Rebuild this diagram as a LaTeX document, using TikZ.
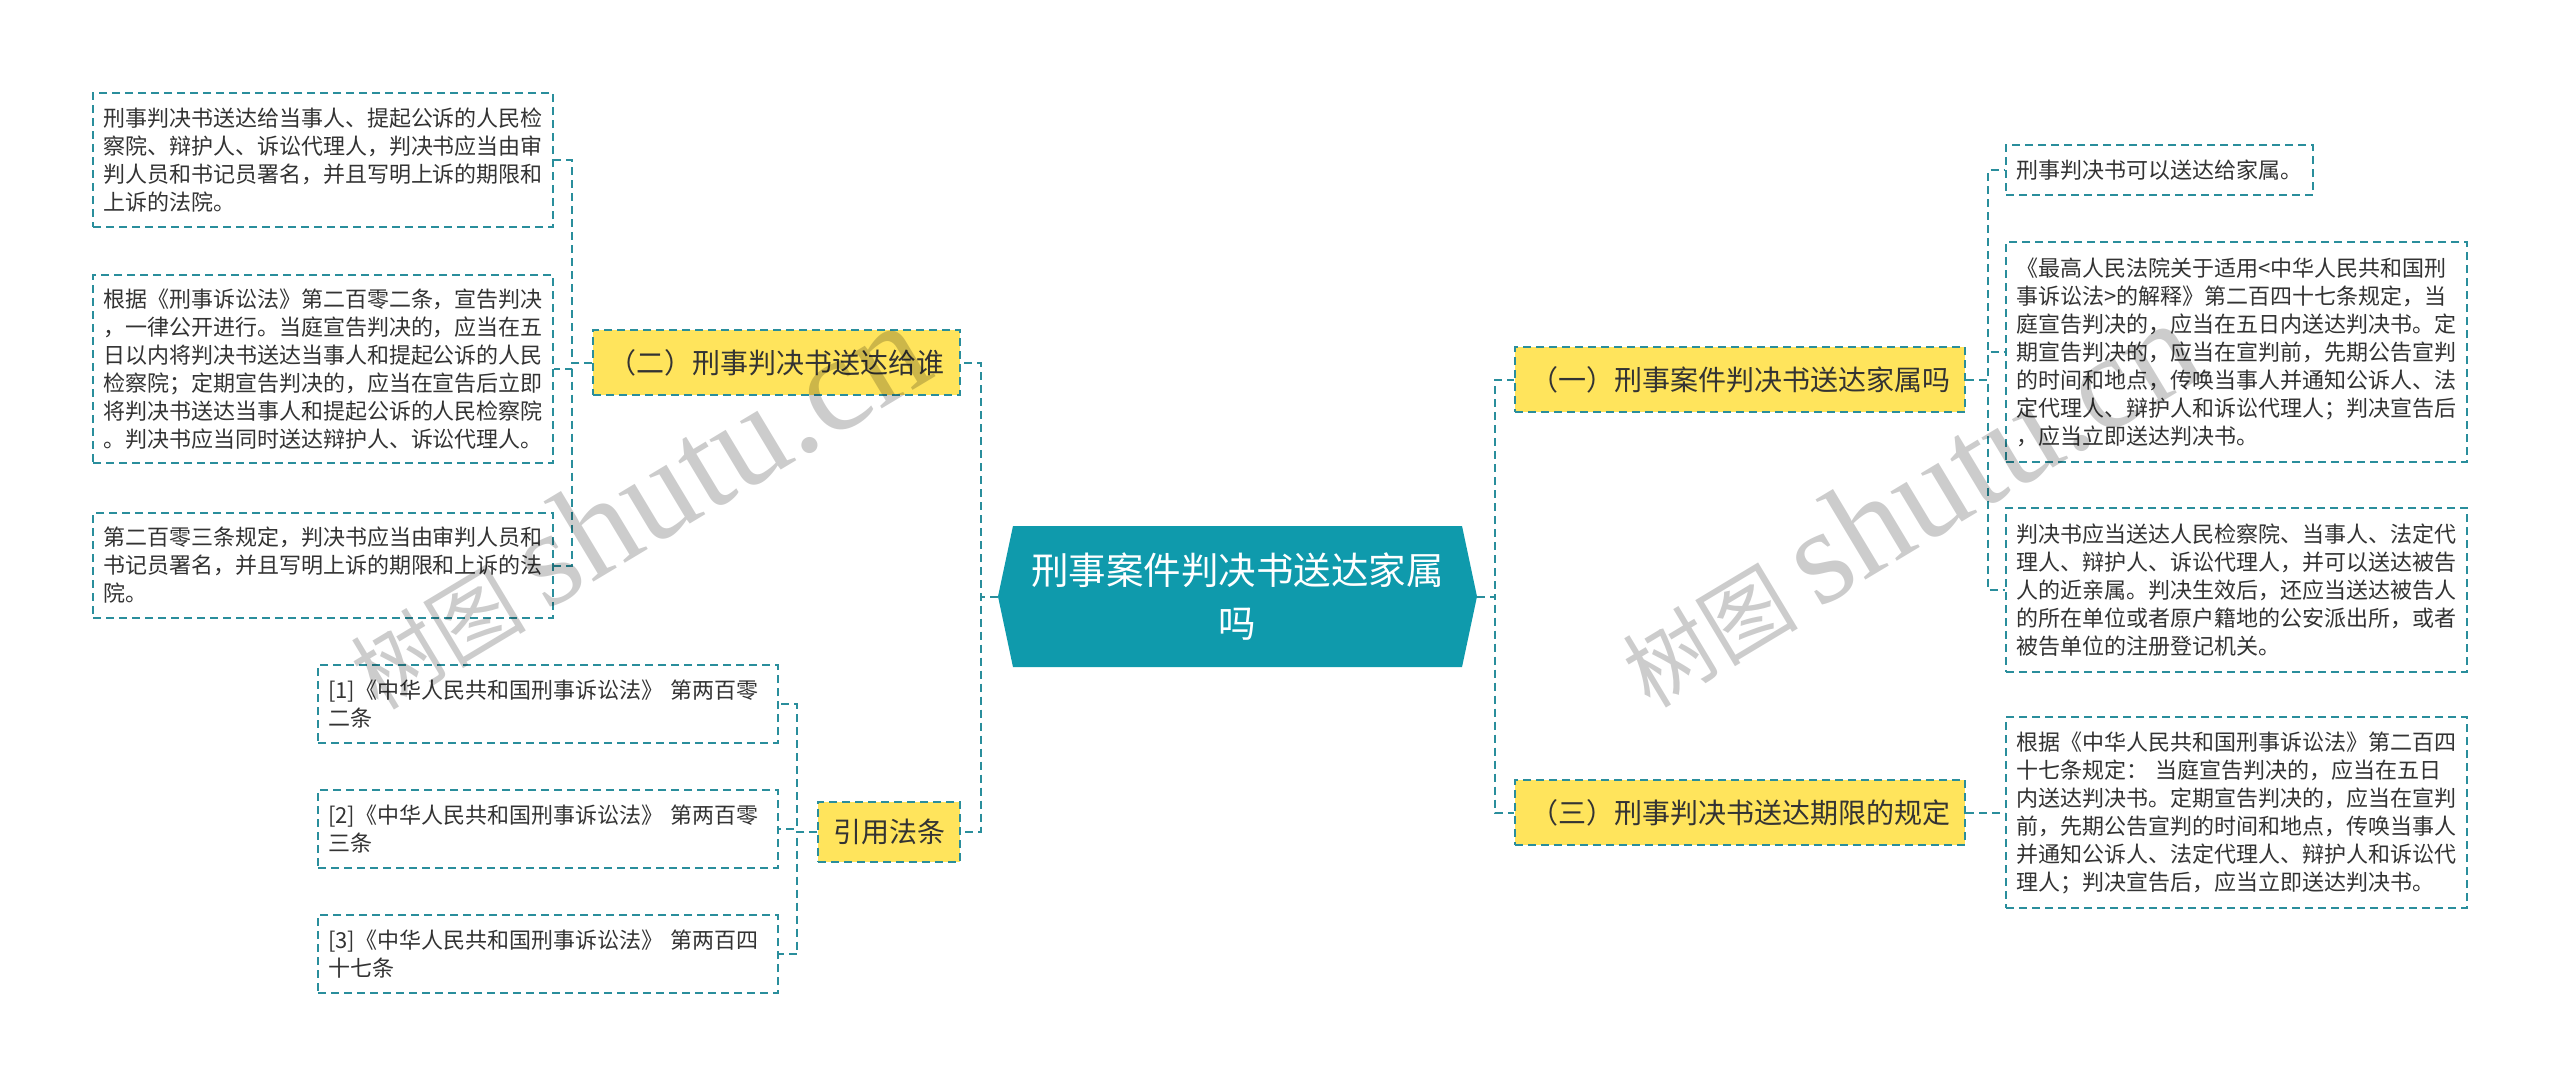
\documentclass[tikz,border=0pt]{standalone}
\usepackage{fontspec}
\setmainfont{Noto Sans CJK SC}
\newfontfamily\marcafont{Liberation Serif}
\usetikzlibrary{shapes.symbols}
\definecolor{verdeazul}{HTML}{2A8E9C}
\definecolor{amarillo}{HTML}{FFE45C}
\definecolor{centro}{HTML}{0F9AAC}
\definecolor{texto}{HTML}{333333}
\tikzstyle{tema} = [signal, signal to=west and east, signal pointer angle=156, fill=centro, text=white, align=center, minimum width=239.5pt, minimum height=70.5pt, inner sep=0pt, font=\fontsize{18.75}{26.5}\selectfont]
\tikzstyle{rama} = [draw=verdeazul, fill=amarillo, dash pattern=on 4pt off 2.5pt, line width=1pt, text=texto, minimum height=32.5pt, inner sep=0pt, font=\fontsize{14}{17}\selectfont]
\tikzstyle{hoja} = [draw=verdeazul, fill=white, dash pattern=on 4pt off 2.5pt, line width=1pt, text=texto, align=left, inner xsep=5pt, inner ysep=0pt, font=\fontsize{11}{14}\selectfont]
\tikzstyle{enlace} = [draw=verdeazul, dash pattern=on 4pt off 2.5pt, line width=1pt]
\tikzstyle{marca} = [text=black, text opacity=0.2, anchor=base west, rotate=31, inner sep=0pt]

\begin{document}
\begin{tikzpicture}[x=0.5pt,y=-0.5pt]
	\fill[white] (0,0) rectangle (2560,1088);
	\useasboundingbox (0,0) rectangle (2560,1088);
	\node[tema] (ctr) at (1237.5,596.5) {刑事案件判决书送达家属\\吗};

	\node[rama, minimum width=183.5pt] (b2) at (776.5,362.5) {（二）刑事判决书送达给谁};
	\node[rama, minimum width=71pt, minimum height=30pt] (bref) at (889,831.5) {引用法条};
	\node[rama, minimum width=225pt] (b1) at (1740,379.5) {（一）刑事案件判决书送达家属吗};
	\node[rama, minimum width=225pt] (b3) at (1740,812.5) {（三）刑事判决书送达期限的规定};

	\node[hoja, text width=220pt, minimum height=67pt] (l1) at (323,160) {刑事判决书送达给当事人、提起公诉的人民检\\
察院、辩护人、诉讼代理人，判决书应当由审\\
判人员和书记员署名，并且写明上诉的期限和\\
上诉的法院。};
	\node[hoja, text width=220pt, minimum height=94pt] (l2) at (323,369) {根据《刑事诉讼法》第二百零二条，宣告判决\\
，一律公开进行。当庭宣告判决的，应当在五\\
日以内将判决书送达当事人和提起公诉的人民\\
检察院；定期宣告判决的，应当在宣告后立即\\
将判决书送达当事人和提起公诉的人民检察院\\
。判决书应当同时送达辩护人、诉讼代理人。};
	\node[hoja, text width=220pt, minimum height=52.5pt] (l3) at (323,565.5) {第二百零三条规定，判决书应当由审判人员和\\
书记员署名，并且写明上诉的期限和上诉的法\\
院。};

	\node[hoja, text width=220pt, minimum height=39pt] (ra) at (548,704) {[1]《中华人民共和国刑事诉讼法》 第两百零\\二条};
	\node[hoja, text width=220pt, minimum height=39pt] (rb) at (548,829) {[2]《中华人民共和国刑事诉讼法》 第两百零\\三条};
	\node[hoja, text width=220pt, minimum height=39pt] (rc) at (548,954) {[3]《中华人民共和国刑事诉讼法》 第两百四\\十七条};

	\node[hoja, text width=143.5pt, minimum height=25pt] (r1) at (2159.5,170) {刑事判决书可以送达给家属。};
	\node[hoja, text width=220.5pt, minimum height=110pt] (r2) at (2236.5,352) {《最高人民法院关于适用<中华人民共和国刑\\
事诉讼法>的解释》第二百四十七条规定，当\\
庭宣告判决的，应当在五日内送达判决书。定\\
期宣告判决的，应当在宣判前，先期公告宣判\\
的时间和地点，传唤当事人并通知公诉人、法\\
定代理人、辩护人和诉讼代理人；判决宣告后\\
，应当立即送达判决书。};
	\node[hoja, text width=220.5pt, minimum height=82pt] (r3) at (2236.5,590) {判决书应当送达人民检察院、当事人、法定代\\
理人、辩护人、诉讼代理人，并可以送达被告\\
人的近亲属。判决生效后，还应当送达被告人\\
的所在单位或者原户籍地的公安派出所，或者\\
被告单位的注册登记机关。};
	\node[hoja, text width=220.5pt, minimum height=95.5pt] (r4) at (2236.5,812.5) {根据《中华人民共和国刑事诉讼法》第二百四\\
十七条规定： 当庭宣告判决的，应当在五日\\
内送达判决书。定期宣告判决的，应当在宣判\\
前，先期公告宣判的时间和地点，传唤当事人\\
并通知公诉人、法定代理人、辩护人和诉讼代\\
理人；判决宣告后，应当立即送达判决书。};

	\draw[enlace] (ctr.west) -- ++(-17,0) |- (b2.east);
	\draw[enlace] (ctr.west) -- ++(-17,0) |- (bref.east);
	\draw[enlace] (ctr.east) -- ++(18,0) |- (b1.west);
	\draw[enlace] (ctr.east) -- ++(18,0) |- (b3.west);
	\foreach \h in {l1,l2,l3}
		\draw[enlace] (b2.west) -- ++(-20,0) |- (\h.east);
	\foreach \h in {ra,rb,rc}
		\draw[enlace] (bref.west) -- ++(-20,0) |- (\h.east);
	\foreach \h in {r1,r2,r3}
		\draw[enlace] (b1.east) -- ++(22,0) |- (\h.west);
	\draw[enlace] (b3.east) -- (r4.west);

	\node[marca] (marca1) at (378,712) {\fontsize{44}{44}\selectfont 树图 \marcafont\fontsize{68}{68}\selectfont shutu.cn};
	\node[marca] (marca2) at (1650,710) {\fontsize{44}{44}\selectfont 树图 \marcafont\fontsize{68}{68}\selectfont shutu.cn};
\end{tikzpicture}
\end{document}
